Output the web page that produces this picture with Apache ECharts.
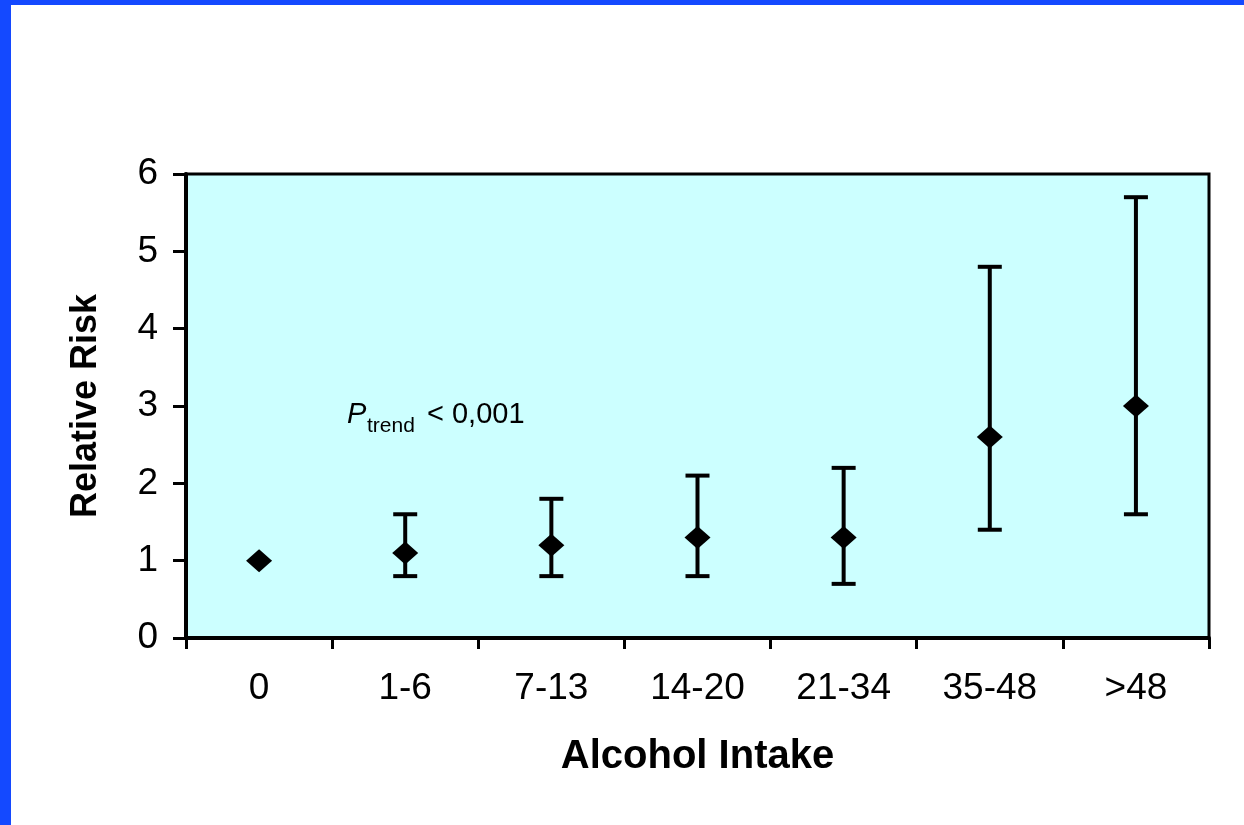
<!DOCTYPE html>
<html>
<head>
<meta charset="utf-8">
<script src="https://cdn.jsdelivr.net/npm/echarts@6/dist/echarts.min.js"></script>
<style>
  html, body { margin: 0; padding: 0; background: #fff; }
  #main { width: 1244px; height: 825px; }
</style>
</head>
<body>
<div id="main"></div>
<script>
// alcohol intake groups and relative risk with 95% CI
var categories = ['0', '1-6', '7-13', '14-20', '21-34', '35-48', '>48'];
var riskValues = [1.0, 1.1, 1.2, 1.3, 1.3, 2.6, 3.0];
var lowerCI = [null, 0.8, 0.8, 0.8, 0.7, 1.4, 1.6];
var upperCI = [null, 1.6, 1.8, 2.1, 2.2, 4.8, 5.7];

var font = "'Liberation Sans', Arial, sans-serif";

var errorData = categories.map(function (c, i) {
    return [i, lowerCI[i], upperCI[i]];
}).filter(function (d) { return d[1] != null; });

var myChart = echarts.init(document.getElementById('main'));
myChart.setOption({
    backgroundColor: '#fff',
    animation: false,
    grid: {
        left: 186, right: 35, top: 174, bottom: 187,
        show: true,
        backgroundColor: '#CCFFFF',
        borderColor: '#000',
        borderWidth: 3
    },
    xAxis: {
        type: 'category',
        data: categories,
        name: 'Alcohol Intake',
        nameLocation: 'middle',
        nameGap: 99,
        nameTextStyle: { fontFamily: font, fontSize: 40, fontWeight: 'bold', color: '#000' },
        axisLine: { lineStyle: { color: '#000', width: 4 } },
        axisTick: { show: true, length: 11, lineStyle: { color: '#000', width: 3 } },
        axisLabel: { margin: 32, fontFamily: font, fontSize: 37, color: '#000' },
        splitLine: { show: false }
    },
    yAxis: {
        type: 'value',
        min: 0, max: 6, interval: 1,
        name: 'Relative Risk',
        nameLocation: 'middle',
        nameGap: 82,
        nameTextStyle: { fontFamily: font, fontSize: 36, fontWeight: 'bold', color: '#000' },
        axisLine: { show: true, lineStyle: { color: '#000', width: 4 } },
        axisTick: { show: true, length: 13, lineStyle: { color: '#000', width: 3 } },
        axisLabel: { margin: 28, fontFamily: font, fontSize: 37, color: '#000' },
        splitLine: { show: false }
    },
    graphic: [
        { type: 'rect', shape: { x: 0, y: 0, width: 1244, height: 5 }, style: { fill: '#1449FF' } },
        { type: 'rect', shape: { x: 0, y: 0, width: 11, height: 825 }, style: { fill: '#1449FF' } },
        { type: 'text', x: 347, y: 415, z: 10,
          style: { text: 'P', font: 'italic 29px ' + font, fill: '#000', verticalAlign: 'middle' } },
        { type: 'text', x: 367, y: 426, z: 10,
          style: { text: 'trend', font: '21px ' + font, fill: '#000', verticalAlign: 'middle' } },
        { type: 'text', x: 427, y: 415, z: 10,
          style: { text: '< 0,001', font: '29px ' + font, fill: '#000', verticalAlign: 'middle' } }
    ],
    series: [
        {
            name: 'CI',
            type: 'custom',
            data: errorData,
            renderItem: function (params, api) {
                var x = api.value(0);
                var lo = api.coord([x, api.value(1)]);
                var hi = api.coord([x, api.value(2)]);
                var half = 12;
                var st = { stroke: '#000', lineWidth: 4 };
                return {
                    type: 'group',
                    children: [
                        { type: 'line', shape: { x1: lo[0], y1: lo[1], x2: hi[0], y2: hi[1] }, style: st },
                        { type: 'line', shape: { x1: hi[0] - half, y1: hi[1], x2: hi[0] + half, y2: hi[1] }, style: st },
                        { type: 'line', shape: { x1: lo[0] - half, y1: lo[1], x2: lo[0] + half, y2: lo[1] }, style: st }
                    ]
                };
            },
            z: 2
        },
        {
            name: 'Relative Risk',
            type: 'scatter',
            data: riskValues,
            symbol: 'diamond',
            symbolSize: [26, 23],
            itemStyle: { color: '#000', opacity: 1 },
            z: 3
        }
    ]
});
</script>
</body>
</html>
